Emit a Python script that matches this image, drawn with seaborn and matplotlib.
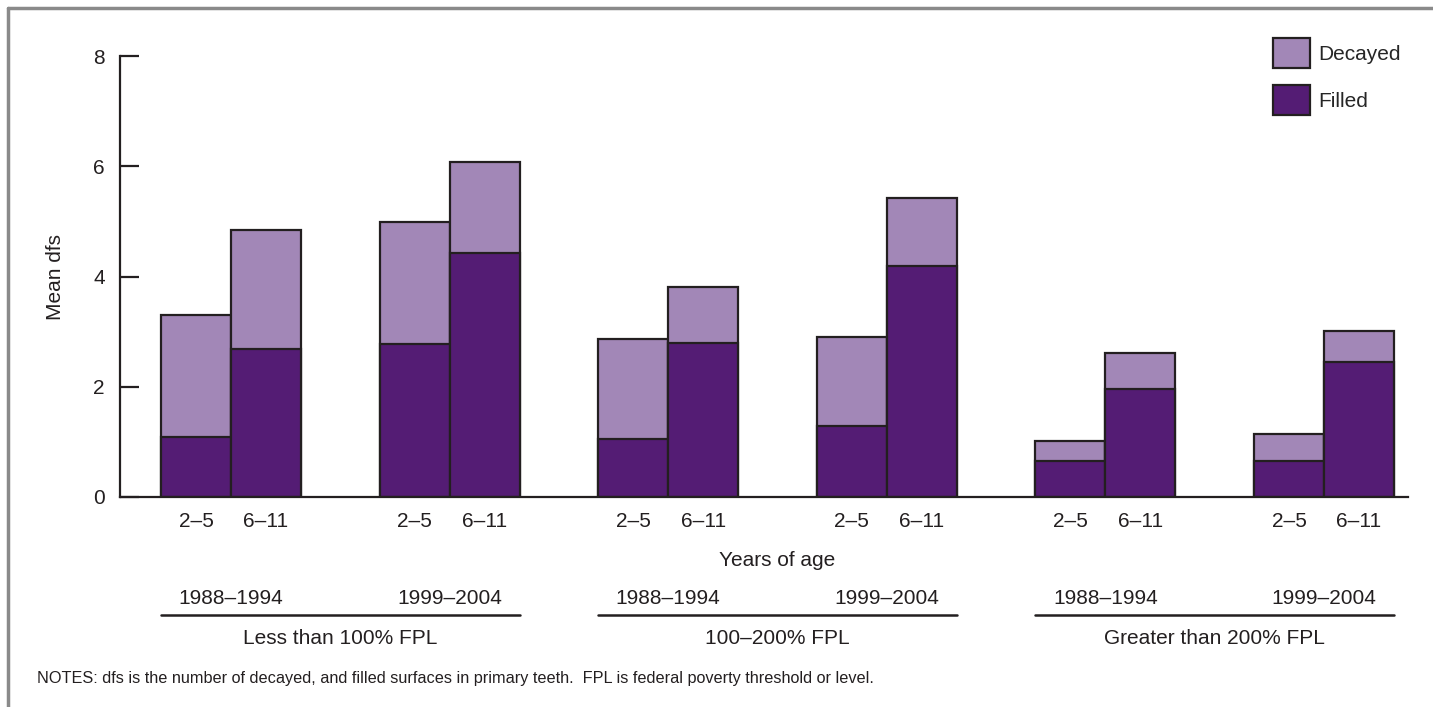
import numpy as np
import pandas as pd
import seaborn as sns
import matplotlib.pyplot as plt
from matplotlib.patches import Patch
from matplotlib.lines import Line2D
import matplotlib.transforms as mtransforms

# data
income_groups = ["Less than 100% FPL", "100\u2013200% FPL", "Greater than 200% FPL"]
periods = ["1988\u20131994", "1999\u20132004"]
ages = ["2\u20135", "6\u201311"]
filled = [1.09, 2.69, 2.78, 4.43,
          1.05, 2.79, 1.29, 4.19,
          0.65, 1.96, 0.65, 2.45]
total = [3.30, 4.85, 4.99, 6.08,
         2.87, 3.81, 2.90, 5.43,
         1.02, 2.61, 1.14, 3.01]

c_decayed = "#a287b7"
c_filled = "#541c74"
c_edge = "#231f20"
c_text = "#231f20"
fs = 15

sns.set_style("ticks")
plt.rcParams["font.family"] = ["Liberation Sans", "DejaVu Sans"]

# layout: 6 pairs of adjacent bars
pair_step = 3.122
rows = []
for i in range(12):
    pair = i // 2
    rows.append({"pos": pair * pair_step + (i % 2),
                 "age": ages[i % 2],
                 "filled": filled[i],
                 "total": total[i]})
df = pd.DataFrame(rows)

fig = plt.figure(figsize=(14.33, 7.07), dpi=100)
ax = fig.add_axes([120/1433, 1-497/707, 1288/1433, 441/707])

sns.barplot(data=df, x="pos", y="total", native_scale=True, width=1.0,
            color=c_decayed, saturation=1, edgecolor=c_edge, linewidth=1.6,
            errorbar=None, ax=ax)
sns.barplot(data=df, x="pos", y="filled", native_scale=True, width=1.0,
            color=c_filled, saturation=1, edgecolor=c_edge, linewidth=1.6,
            errorbar=None, ax=ax)

ax.set_xlim(-1.086, 17.31)
ax.set_ylim(0, 8)
ax.set_yticks([0, 2, 4, 6, 8])
ax.set_xticks(df["pos"])
ax.set_xticklabels(df["age"])
ax.tick_params(axis="x", length=0, pad=11, labelsize=fs, labelcolor=c_text)
ax.tick_params(axis="y", direction="in", length=14, width=1.6, pad=11,
               labelsize=fs, labelcolor=c_text, color=c_edge)
sns.despine(ax=ax)
for s in ["left", "bottom"]:
    ax.spines[s].set_linewidth(1.6)
    ax.spines[s].set_color(c_edge)
ax.set_xlabel("")
ax.set_ylabel("Mean dfs", fontsize=fs, color=c_text)
ax.yaxis.set_label_coords(-0.043, 0.5)

trans = mtransforms.blended_transform_factory(ax.transData, ax.transAxes)
ax.text((df["pos"].min() + df["pos"].max()) / 2, -0.143, "Years of age",
        transform=trans, ha="center", va="center", fontsize=fs, color=c_text)

for g, gname in enumerate(income_groups):
    p0 = df["pos"].iloc[4 * g]
    p1 = df["pos"].iloc[4 * g + 3]
    for k, per in enumerate(periods):
        pc = df["pos"].iloc[4 * g + 2 * k] + 0.5
        ax.text(pc, -0.23, per, transform=trans, ha="center", va="center",
                fontsize=fs, color=c_text)
    ax.plot([p0 - 0.5, p1 + 0.5], [-0.268, -0.268], transform=trans,
            color=c_edge, lw=1.8, clip_on=False)
    ax.text((p0 + p1) / 2, -0.32, gname, transform=trans, ha="center",
            va="center", fontsize=fs, color=c_text)

handles = [Patch(facecolor=c_decayed, edgecolor=c_edge, linewidth=1.6),
           Patch(facecolor=c_filled, edgecolor=c_edge, linewidth=1.6)]
ax.legend(handles, ["Decayed", "Filled"], loc="upper left",
          bbox_to_anchor=(1273/1433, 1-38/707), bbox_transform=fig.transFigure,
          frameon=False, borderpad=0, borderaxespad=0, fontsize=fs,
          handlelength=1.78, handleheight=1.84, handletextpad=0.4,
          labelspacing=0.82)

fig.text(37/1433, 1-678/707,
         "NOTES: dfs is the number of decayed, and filled surfaces in primary teeth.  "
         "FPL is federal poverty threshold or level.",
         fontsize=11.7, color=c_text, va="center", ha="left")

# page frame lines (top and left)
fig.add_artist(Line2D([8/1433, 1], [1-8/707, 1-8/707], color="#8a8a8a", lw=2.5))
fig.add_artist(Line2D([8/1433, 8/1433], [0, 1-8/707], color="#8a8a8a", lw=2.5))

fig.savefig("out.png", dpi=100)
